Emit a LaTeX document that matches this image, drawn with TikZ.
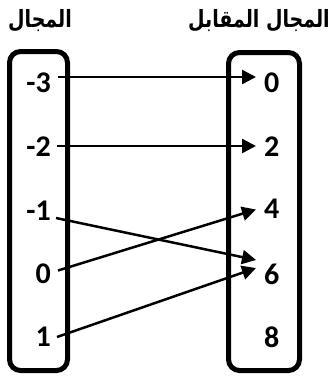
\documentclass[tikz,border=0pt]{standalone}
\usepackage{fontspec}
\setmainfont{Carlito}
\TeXXeTstate=1
\newfontfamily\arabicfont[Script=Arabic]{DejaVu Sans}
\usetikzlibrary{arrows.meta}
\tikzset{
  setbox/.style={draw, line width=5pt, rounded corners=11pt},
  num/.style={font=\fontsize{30}{32}\selectfont\bfseries, inner sep=0pt},
  head/.style={font=\arabicfont\bfseries\fontsize{19}{22}\selectfont, inner sep=0pt},
  maparrow/.style={line width=2.5pt, -{Triangle[length=14pt,width=14pt]}}
}
\newcommand{\tallhead}[1]{\scalebox{1}[1.25]{#1}}
\begin{document}
\begin{tikzpicture}[x=1pt,y=-1pt]
\useasboundingbox (0,0) rectangle (334,376);
% boxes
\draw[setbox] (9.5,51.5) rectangle (67.5,370.5) node[coordinate] (dombox) {};
\draw[setbox] (228.5,52.5) rectangle (299.5,370.5) node[coordinate] (codbox) {};
% headers
\node[head] (hdom) at (40,21) {\tallhead{\beginR المجال\endR}};
\node[head] (hcod) at (259,21) {\tallhead{\beginR المجال المقابل\endR}};
% domain labels
\node[num, anchor=east] (lm3) at (51,82.5) {-3};
\node[num, anchor=east] (lm2) at (51,147) {-2};
\node[num, anchor=east] (lm1) at (51,211) {-1};
\node[num, anchor=east] (l0) at (51,273.5) {0};
\node[num, anchor=east] (l1) at (51,337) {1};
% codomain labels
\node[num, anchor=west] (r0) at (264,83) {0};
\node[num, anchor=west] (r2) at (264,147) {2};
\node[num, anchor=west] (r4) at (264,209) {4};
\node[num, anchor=west] (r6) at (264,274) {6};
\node[num, anchor=west] (r8) at (264,337) {8};
% arrow endpoints
\coordinate (sm3) at (58,77);
\coordinate (sm2) at (57,146);
\coordinate (sm1) at (56,218);
\coordinate (s0) at (58,270.5);
\coordinate (s1) at (57,337);
\coordinate (e0) at (256,77);
\coordinate (e2) at (256,146);
\coordinate (e4) at (256,209.5);
\coordinate (e6a) at (256,260);
\coordinate (e6b) at (256,268);
\draw[maparrow] (sm3) -- (e0);
\draw[maparrow] (sm2) -- (e2);
\draw[maparrow] (sm1) -- (e6a);
\draw[maparrow] (s0) -- (e4);
\draw[maparrow] (s1) -- (e6b);
\end{tikzpicture}
\end{document}
